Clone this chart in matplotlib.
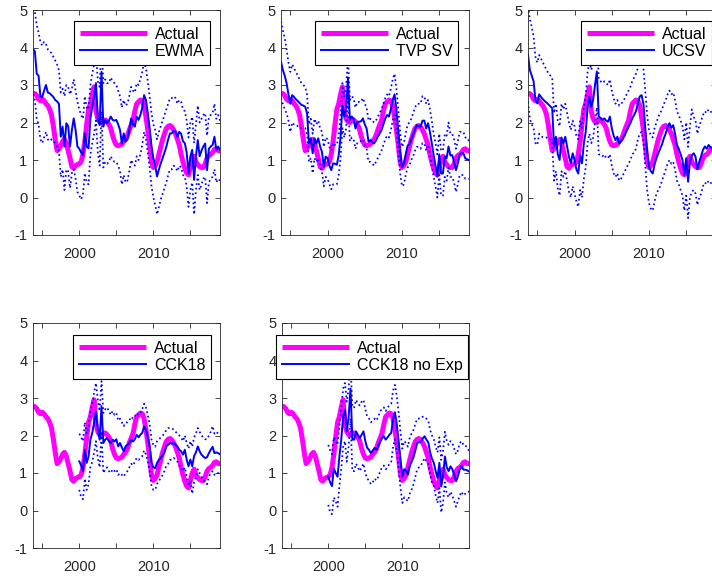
import numpy as np
import matplotlib
matplotlib.use("Agg")
import matplotlib.pyplot as plt

plt.rcParams['font.family'] = ['Liberation Sans', 'DejaVu Sans']
plt.rcParams['axes.unicode_minus'] = False

# quarterly data, first observation 1993Q4
start_year = 1993.75

actual = [2.78,
          2.77, 2.72, 2.62, 2.58, 2.62, 2.58, 2.50, 2.45, 2.35, 2.20, 1.90, 1.55,
          1.25, 1.30, 1.38, 1.50, 1.55, 1.45, 1.25, 1.05, 0.82, 0.78, 0.85, 0.88,
          0.90, 0.95, 1.15, 1.50, 1.95, 2.35, 2.50, 2.75, 2.95, 2.30, 2.10, 2.02,
          2.00, 2.05, 2.07, 2.02, 1.95, 1.85, 1.65, 1.50, 1.40, 1.38, 1.40, 1.42,
          1.50, 1.55, 1.65, 1.80, 1.93, 2.05, 2.30, 2.50, 2.55, 2.60, 2.58, 2.45,
          2.15, 1.80, 1.40, 0.95, 0.80, 0.85, 0.95, 1.15, 1.35, 1.55, 1.70, 1.84,
          1.90, 1.92, 1.88, 1.80, 1.70, 1.55, 1.40, 1.15, 0.95, 0.78, 0.65, 0.60,
          0.80, 1.00, 1.10, 0.95, 0.88, 0.82, 0.80, 0.80, 0.90, 1.05, 1.12, 1.15,
          1.20, 1.28, 1.30, 1.25, 1.25]

ewma_med = [3.95,
            3.90, 3.30, 3.25, 2.70, 2.68, 2.85, 3.00, 2.80, 2.78, 2.73, 2.68, 2.60,
            2.56, 2.50, 1.62, 1.89, 1.36, 1.98, 1.90, 1.36, 1.80, 2.11, 1.80, 1.36,
            1.30, 1.20, 1.13, 1.71, 1.36, 1.31, 2.10, 2.42, 2.70, 3.05, 2.10, 1.93,
            3.35, 1.89, 2.07, 1.98, 2.05, 2.16, 2.07, 2.05, 2.07, 1.95, 1.80, 1.44,
            1.71, 1.49, 1.55, 1.80, 2.11, 1.95, 1.89, 2.16, 2.07, 2.20, 2.40, 2.73,
            2.60, 2.25, 1.85, 1.36, 1.05, 0.85, 0.56, 0.75, 0.91, 1.05, 1.20, 1.35,
            1.55, 1.71, 1.71, 1.78, 1.75, 1.62, 1.75, 1.70, 1.50, 1.45, 1.20, 0.64,
            1.10, 1.27, 0.47, 1.09, 1.53, 1.10, 1.25, 1.36, 1.44, 0.73, 1.30, 1.36,
            1.40, 1.62, 1.27, 1.36, 1.27]
ewma_hi = [5.05,
           4.95, 4.60, 4.40, 4.15, 4.05, 4.15, 4.10, 3.95, 3.90, 3.85, 3.75, 3.65,
           3.55, 3.40, 2.80, 2.90, 2.70, 3.00, 2.95, 2.75, 2.90, 3.15, 2.85, 2.55,
           2.35, 2.20, 2.10, 2.70, 2.40, 2.35, 3.00, 3.30, 3.55, 3.90, 3.10, 2.95,
           4.10, 3.05, 3.15, 3.05, 3.05, 3.20, 3.10, 3.05, 3.00, 2.85, 2.70, 2.40,
           2.60, 2.45, 2.50, 2.70, 2.95, 2.85, 2.80, 3.05, 3.00, 3.15, 3.35, 3.60,
           3.45, 3.10, 2.70, 2.25, 1.95, 1.80, 1.55, 1.75, 1.90, 2.05, 2.20, 2.35,
           2.50, 2.65, 2.65, 2.70, 2.65, 2.50, 2.60, 2.55, 2.35, 2.30, 2.05, 1.60,
           2.00, 2.15, 1.45, 1.95, 2.45, 2.00, 2.10, 2.20, 2.25, 1.65, 2.15, 2.20,
           2.25, 2.50, 2.10, 2.20, 2.05]
ewma_lo = [2.75,
           2.60, 2.10, 1.95, 1.55, 1.45, 1.60, 1.75, 1.55, 1.50, 1.55, 1.50, 1.45,
           1.35, 1.25, 0.55, 0.75, 0.20, 0.75, 0.70, 0.25, 0.65, 0.75, 0.50, 0.15,
           0.05, -0.05, 0.10, 0.65, 0.40, 0.35, 1.15, 1.45, 1.70, 2.05, 1.20, 0.85,
           2.30, 0.80, 0.95, 0.90, 0.95, 1.10, 1.00, 0.95, 0.95, 0.85, 0.70, 0.35,
           0.60, 0.40, 0.45, 0.70, 1.00, 0.90, 0.85, 1.10, 1.00, 1.15, 1.40, 1.75,
           1.55, 1.20, 0.80, 0.30, 0.00, -0.20, -0.45, -0.25, -0.05, 0.10, 0.25, 0.40,
           0.60, 0.75, 0.75, 0.85, 0.80, 0.70, 0.85, 0.80, 0.60, 0.55, 0.30, -0.25,
           0.20, 0.40, -0.45, 0.20, 0.60, 0.20, 0.35, 0.50, 0.55, -0.15, 0.40, 0.50,
           0.55, 0.75, 0.40, 0.50, 0.45]

tvp_med = [3.62,
           3.40, 3.25, 3.05, 2.75, 2.50, 2.73, 2.68, 2.62, 2.57, 2.52, 2.47, 2.45,
           2.42, 2.24, 1.44, 1.58, 1.18, 1.58, 1.44, 1.58, 1.36, 1.22, 0.82, 1.09,
           1.05, 0.85, 0.73, 0.91, 0.90, 0.87, 1.13, 1.62, 2.45, 2.16, 2.40, 3.20,
           2.07, 2.16, 2.10, 1.84, 2.02, 2.02, 2.03, 2.11, 1.95, 1.84, 1.49, 1.53,
           1.48, 1.44, 1.52, 1.62, 1.71, 1.80, 1.95, 2.10, 2.20, 2.16, 2.35, 2.60,
           2.75, 2.35, 1.80, 1.20, 0.82, 0.90, 1.15, 1.38, 1.42, 1.55, 1.68, 1.82,
           1.93, 1.90, 1.89, 2.05, 2.05, 1.84, 1.98, 1.75, 1.45, 1.13, 0.85, 0.56,
           1.15, 0.64, 0.64, 1.10, 1.05, 1.36, 1.12, 1.13, 0.95, 0.73, 0.91, 1.15,
           1.18, 1.18, 1.04, 1.02, 1.00]
tvp_hi = [4.70,
          4.45, 4.25, 3.95, 3.60, 3.35, 3.55, 3.45, 3.35, 3.25, 3.15, 3.05, 3.00,
          2.95, 2.75, 1.95, 2.10, 1.70, 2.10, 1.95, 2.05, 1.85, 1.75, 1.35, 1.60,
          1.55, 1.35, 1.25, 1.45, 1.40, 1.40, 1.65, 2.20, 3.05, 2.70, 2.95, 3.75,
          2.60, 2.70, 2.65, 2.40, 2.55, 2.55, 2.55, 2.65, 2.50, 2.40, 2.05, 2.10,
          2.05, 2.00, 2.05, 2.15, 2.25, 2.35, 2.50, 2.65, 2.75, 2.70, 2.90, 3.15,
          3.30, 2.90, 2.35, 1.75, 1.35, 1.45, 1.70, 1.95, 2.00, 2.10, 2.25, 2.40,
          2.50, 2.50, 2.50, 2.70, 2.70, 2.50, 2.60, 2.35, 2.05, 1.70, 1.45, 1.15,
          1.70, 1.25, 1.25, 1.70, 1.65, 2.00, 1.70, 1.70, 1.55, 1.30, 1.50, 1.75,
          1.75, 1.75, 1.60, 1.60, 1.50]
tvp_lo = [2.65,
          2.50, 2.35, 2.25, 2.05, 1.75, 2.00, 1.95, 1.95, 1.90, 1.90, 1.85, 1.85,
          1.85, 1.70, 0.95, 1.05, 0.65, 1.05, 0.95, 1.05, 0.85, 0.70, 0.30, 0.55,
          0.50, 0.35, 0.22, 0.35, 0.35, 0.35, 0.60, 1.05, 1.85, 1.60, 1.85, 2.65,
          1.50, 1.60, 1.55, 1.30, 1.45, 1.50, 1.50, 1.55, 1.40, 1.30, 0.95, 0.95,
          0.90, 0.85, 0.95, 1.05, 1.15, 1.25, 1.40, 1.55, 1.65, 1.60, 1.80, 2.05,
          2.20, 1.80, 1.25, 0.65, 0.30, 0.35, 0.60, 0.80, 0.85, 1.00, 1.10, 1.25,
          1.35, 1.35, 1.30, 1.45, 1.45, 1.25, 1.40, 1.15, 0.85, 0.55, 0.30, 0.00,
          0.60, 0.05, 0.05, 0.55, 0.45, 0.80, 0.55, 0.55, 0.40, 0.15, 0.35, 0.60,
          0.60, 0.60, 0.50, 0.50, 0.50]

ucsv_med = [3.80,
            3.40, 3.25, 3.10, 2.60, 2.51, 2.75, 2.68, 2.62, 2.57, 2.53, 2.48, 2.43,
            2.38, 1.36, 1.62, 1.15, 1.00, 1.60, 1.44, 1.62, 1.36, 1.09, 0.91, 1.18,
            1.00, 0.75, 0.64, 1.13, 0.91, 1.44, 1.75, 2.40, 2.69, 2.42, 2.60, 3.00,
            3.36, 2.16, 2.12, 2.07, 2.11, 2.05, 2.02, 2.16, 1.85, 1.65, 1.53, 1.62,
            1.44, 1.50, 1.58, 1.67, 1.78, 1.88, 1.98, 2.11, 2.20, 2.30, 2.50, 2.69,
            2.73, 2.50, 1.85, 1.20, 0.82, 0.70, 0.64, 0.88, 1.05, 1.18, 1.30, 1.42,
            1.58, 1.71, 1.88, 1.98, 1.86, 1.93, 1.70, 1.40, 1.30, 1.15, 1.00, 0.60,
            1.05, 0.42, 0.95, 1.12, 1.18, 1.09, 0.75, 0.95, 1.10, 1.27, 1.36, 1.30,
            1.40, 1.35, 1.30, 1.35, 1.30]
ucsv_hi = [5.10,
           4.75, 4.55, 4.30, 3.75, 3.60, 3.80, 3.70, 3.60, 3.50, 3.40, 3.30, 3.25,
           3.20, 2.25, 2.50, 2.05, 1.90, 2.50, 2.35, 2.50, 2.25, 2.00, 1.80, 2.05,
           1.90, 1.65, 1.55, 2.05, 1.85, 2.40, 2.70, 3.35, 3.65, 3.40, 3.60, 4.00,
           4.35, 3.15, 3.10, 3.05, 3.10, 3.05, 3.00, 3.15, 2.85, 2.65, 2.50, 2.60,
           2.45, 2.50, 2.55, 2.65, 2.75, 2.85, 2.95, 3.10, 3.20, 3.30, 3.45, 3.65,
           3.70, 3.45, 2.85, 2.20, 1.80, 1.65, 1.60, 1.85, 2.00, 2.15, 2.25, 2.35,
           2.50, 2.60, 2.75, 2.85, 2.75, 2.80, 2.60, 2.30, 2.20, 2.05, 1.90, 1.55,
           2.00, 1.35, 1.90, 2.35, 2.15, 2.05, 1.70, 1.90, 2.05, 2.20, 2.30, 2.25,
           2.35, 2.30, 2.25, 2.30, 2.25]
ucsv_lo = [2.55,
           2.10, 1.95, 1.85, 1.45, 1.40, 1.70, 1.65, 1.60, 1.60, 1.60, 1.55, 1.55,
           1.50, 0.45, 0.70, 0.25, 0.05, 0.70, 0.55, 0.70, 0.45, 0.15, 0.00, 0.30,
           0.10, -0.10, -0.25, 0.20, 0.00, 0.50, 0.80, 1.45, 1.70, 1.45, 1.60, 2.00,
           2.40, 1.15, 1.15, 1.10, 1.15, 1.05, 1.05, 1.15, 0.85, 0.65, 0.55, 0.65,
           0.45, 0.50, 0.60, 0.70, 0.80, 0.90, 1.00, 1.15, 1.20, 1.30, 1.55, 1.70,
           1.75, 1.50, 0.85, 0.20, -0.15, -0.30, -0.35, -0.10, 0.10, 0.20, 0.30, 0.45,
           0.60, 0.75, 0.90, 1.00, 0.90, 0.95, 0.75, 0.45, 0.35, 0.20, 0.05, -0.35,
           0.05, -0.55, 0.00, 0.15, 0.20, 0.10, -0.20, 0.00, 0.10, 0.30, 0.40, 0.35,
           0.45, 0.40, 0.35, 0.40, 0.35]

# CCK18 forecasts start in 2000Q1
cck_med = [1.31, 1.20, 1.05, 1.62, 1.27, 1.44, 1.89, 2.07, 2.35, 2.64, 2.16, 1.89,
           2.78, 1.80, 1.89, 1.93, 1.85, 1.80, 1.89, 1.84, 1.90, 1.71, 1.80, 1.68,
           1.58, 1.71, 1.75, 1.80, 1.89, 1.84, 1.90, 2.02, 1.95, 2.02, 2.07, 2.24,
           2.15, 1.95, 1.71, 1.27, 1.15, 1.13, 1.27, 1.35, 1.40, 1.48, 1.55, 1.71,
           1.75, 1.80, 1.78, 1.80, 1.75, 1.71, 1.62, 1.58, 1.49, 1.62, 1.36, 1.18,
           1.36, 1.18, 1.45, 1.55, 1.71, 1.58, 1.49, 1.44, 1.40, 1.42, 1.53, 1.62,
           1.70, 1.53, 1.55, 1.53, 1.50]
cck_hi = [2.05, 1.95, 1.85, 2.35, 2.05, 2.20, 2.65, 2.85, 3.15, 3.40, 2.95, 2.65,
          3.45, 2.60, 2.70, 2.75, 2.65, 2.55, 2.65, 2.55, 2.60, 2.40, 2.45, 2.35,
          2.25, 2.35, 2.35, 2.40, 2.50, 2.45, 2.50, 2.60, 2.55, 2.60, 2.70, 2.85,
          2.75, 2.55, 2.30, 1.90, 1.75, 1.70, 1.85, 1.90, 1.95, 2.00, 2.05, 2.15,
          2.20, 2.20, 2.20, 2.15, 2.10, 2.05, 2.00, 1.95, 1.85, 2.00, 1.80, 1.65,
          1.85, 1.70, 1.95, 2.05, 2.20, 2.10, 2.00, 1.95, 1.90, 1.90, 2.00, 2.10,
          2.25, 2.05, 2.10, 2.05, 2.05]
cck_lo = [0.55, 0.35, 0.30, 0.85, 0.55, 0.70, 1.15, 1.30, 1.55, 1.85, 1.40, 1.15,
          2.05, 1.00, 1.10, 1.15, 1.05, 1.00, 1.10, 1.05, 1.10, 0.95, 1.00, 0.95,
          0.90, 1.00, 1.05, 1.15, 1.25, 1.20, 1.30, 1.40, 1.35, 1.40, 1.45, 1.60,
          1.50, 1.30, 1.05, 0.65, 0.55, 0.55, 0.70, 0.80, 0.85, 0.95, 1.05, 1.20,
          1.25, 1.35, 1.35, 1.40, 1.35, 1.30, 1.20, 1.15, 1.05, 1.15, 0.90, 0.65,
          0.80, 0.45, 0.75, 0.90, 1.10, 1.00, 0.90, 0.85, 0.75, 0.70, 0.90, 1.00,
          1.05, 0.95, 1.00, 1.00, 0.95]

noexp_med = [0.90, 0.75, 0.65, 1.12, 1.00, 0.90, 1.44, 1.89, 2.50, 2.69, 2.11, 2.50,
             3.25, 1.89, 1.89, 2.11, 2.00, 1.93, 2.02, 2.11, 1.85, 1.67, 1.62, 1.53,
             1.60, 1.67, 1.62, 1.71, 1.85, 1.93, 1.98, 1.89, 1.95, 2.02, 2.07, 2.45,
             2.62, 2.30, 1.85, 1.35, 0.91, 1.10, 1.05, 0.96, 1.20, 1.30, 1.42, 1.60,
             1.80, 1.82, 1.84, 1.92, 1.98, 1.89, 1.82, 1.55, 1.38, 1.27, 1.05, 0.87,
             1.27, 0.64, 0.91, 1.44, 1.15, 1.05, 1.18, 1.10, 0.95, 0.78, 0.91, 1.10,
             1.18, 1.09, 1.09, 1.07, 1.04]
noexp_hi = [1.75, 1.60, 1.50, 1.95, 1.85, 1.75, 2.25, 2.70, 3.25, 3.40, 2.90, 3.25,
            3.95, 2.75, 2.75, 2.95, 2.85, 2.80, 2.90, 2.95, 2.70, 2.50, 2.45, 2.35,
            2.40, 2.45, 2.40, 2.50, 2.65, 2.70, 2.75, 2.65, 2.75, 2.80, 2.85, 3.20,
            3.35, 3.05, 2.60, 2.10, 1.65, 1.85, 1.80, 1.70, 1.95, 2.05, 2.15, 2.30,
            2.45, 2.45, 2.45, 2.50, 2.50, 2.45, 2.40, 2.15, 2.00, 1.90, 1.70, 1.55,
            1.95, 1.35, 1.60, 2.10, 1.85, 1.75, 1.85, 1.80, 1.65, 1.50, 1.60, 1.80,
            1.85, 1.75, 1.75, 1.65, 1.60]
noexp_lo = [0.15, -0.05, -0.10, 0.35, 0.25, 0.10, 0.65, 1.10, 1.70, 1.85, 1.30, 1.70,
            2.45, 1.05, 1.05, 1.25, 1.15, 1.05, 1.15, 1.25, 1.00, 0.85, 0.80, 0.70,
            0.75, 0.85, 0.80, 0.90, 1.05, 1.15, 1.20, 1.10, 1.15, 1.25, 1.30, 1.70,
            1.90, 1.55, 1.10, 0.60, 0.20, 0.35, 0.30, 0.25, 0.45, 0.55, 0.70, 0.90,
            1.10, 1.15, 1.20, 1.30, 1.40, 1.30, 1.25, 0.95, 0.75, 0.65, 0.40, 0.20,
            0.60, -0.05, 0.20, 0.75, 0.45, 0.35, 0.50, 0.40, 0.25, 0.10, 0.25, 0.40,
            0.50, 0.40, 0.45, 0.50, 0.50]

model_names = ["EWMA", "TVP SV", "UCSV", "CCK18", "CCK18 no Exp"]
medians = [ewma_med, tvp_med, ucsv_med, cck_med, noexp_med]
uppers = [ewma_hi, tvp_hi, ucsv_hi, cck_hi, noexp_hi]
lowers = [ewma_lo, tvp_lo, ucsv_lo, cck_lo, noexp_lo]

x_ticks = [1995, 2000, 2005, 2010, 2015]
x_tick_labels = ["", "2000", "", "2010", ""]
y_ticks = [-1, 0, 1, 2, 3, 4, 5]

dates = start_year + 0.25 * np.arange(len(actual))

W, H = 712, 581
fig = plt.figure(figsize=(W / 100, H / 100), dpi=100)

# axes boxes in pixels: left, top, width, height
boxes = [(33, 10, 187, 225), (281, 10, 188, 225), (528, 10, 188, 225),
         (33, 323, 187, 225), (282, 323, 187, 225)]
# legend anchor (loc, x, y) in axes fraction
leg_pos = [("upper right", 0.947, 0.951), ("upper right", 0.941, 0.951),
           ("upper left", 0.282, 0.951), ("upper right", 0.952, 0.947),
           ("upper left", -0.032, 0.947)]

dark = "#262626"

for i, name in enumerate(model_names):
    l, t, w, h = boxes[i]
    ax = fig.add_axes([l / W, 1 - (t + h) / H, w / W, h / H])

    med = np.array(medians[i])
    d = dates[len(dates) - len(med):]

    ax.plot(dates, actual, color="#ff00ff", lw=3.6, label="Actual",
            solid_capstyle="butt")
    ax.plot(d, med, color="#0000ff", lw=1.4, label=name)
    ax.plot(d, uppers[i], color="#0000ff", lw=1.25, ls=":")
    ax.plot(d, lowers[i], color="#0000ff", lw=1.25, ls=":")

    ax.set_xlim(dates[0], dates[-1])
    ax.set_ylim(-1, 5)
    ax.set_xticks(x_ticks)
    ax.set_xticklabels(x_tick_labels)
    ax.set_yticks(y_ticks)
    ax.tick_params(direction="in", length=3.5, width=0.6, colors=dark,
                   labelsize=10.5, top=True, right=True)
    ax.tick_params(axis="x", pad=8.5)
    ax.tick_params(axis="y", pad=4)
    for sp in ax.spines.values():
        sp.set_color(dark)
        sp.set_linewidth(0.6)

    loc, bx, by = leg_pos[i]
    leg = ax.legend(loc=loc, bbox_to_anchor=(bx, by), borderaxespad=0,
                    fontsize=11.5, handlelength=4.2, handletextpad=0.5,
                    labelspacing=0.15, borderpad=0.35, fancybox=False,
                    framealpha=1, edgecolor="black")
    leg.get_frame().set_linewidth(0.8)

fig.savefig("out.png", dpi=100)
